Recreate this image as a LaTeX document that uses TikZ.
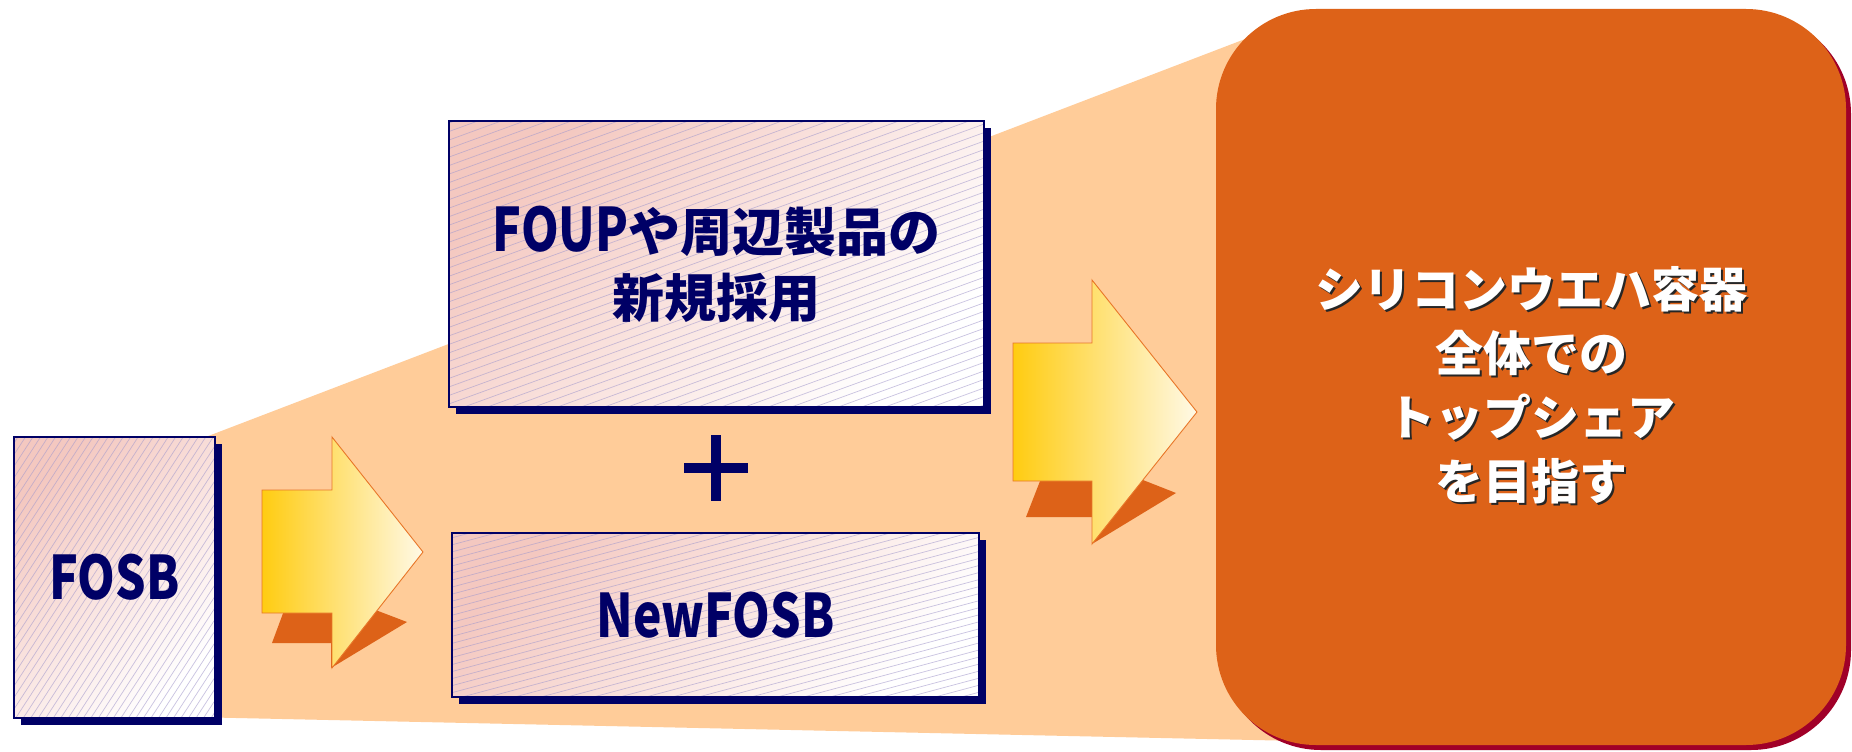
\documentclass[tikz,border=0pt]{standalone}
\usepackage{fontspec}
\usepackage{graphicx}
\usetikzlibrary{shadows,calc}
\newfontfamily\jp{Noto Sans CJK JP}
\definecolor{navy}{RGB}{0,0,102}
\definecolor{peach}{RGB}{255,204,153}
\definecolor{orng}{RGB}{221,98,24}
\definecolor{crimson}{RGB}{160,0,40}
\definecolor{pinkc}{RGB}{244,200,192}
\definecolor{hatchc}{RGB}{165,155,205}
\definecolor{ylw}{RGB}{255,204,17}
\definecolor{cream}{RGB}{255,249,230}
\definecolor{arrline}{RGB}{232,118,40}
\newcommand{\lat}[1]{{\fontsize{60}{66}\selectfont\scalebox{0.8}[1]{#1}}}
\tikzset{
  x=1pt, y=-1pt,
  boxbase/.style={draw=navy, line width=1.3pt, top color=pinkc, bottom color=white, shading angle=45,
    drop shadow={shadow xshift=7pt, shadow yshift=-7pt, fill=navy, opacity=1},
    font=\jp\bfseries\fontsize{52}{66}\selectfont, text=navy, align=center, inner sep=0pt},
  hatch/.style n args={2}{path picture={
    \foreach \k in {-55,...,55}{
      \draw[hatchc, line width=0.7pt, opacity=0.6]
        ($(path picture bounding box.center)+({\k*#2*sin(#1)},{\k*#2*cos(#1)})$)
        ++({-450*cos(#1)},{450*sin(#1)}) -- ++({900*cos(#1)},{-900*sin(#1)});
    }}},
  arrowbody/.style={left color=ylw, right color=cream, draw=arrline, line width=0.9pt},
  arrowshadow/.style={fill=orng},
  goalbox/.style={fill=orng, rounded corners=100pt, minimum width=630pt, minimum height=736pt,
    drop shadow={shadow xshift=5pt, shadow yshift=-5pt, fill=crimson, opacity=1}, inner sep=0pt},
  goaltext/.style={font=\jp\bfseries\fontsize{48}{64}\selectfont, align=center, inner sep=0pt},
  plusbar/.style={navy, line width=10pt}
}
\begin{document}
\begin{tikzpicture}
\useasboundingbox (0,0) rectangle (1852,752);
\fill[white] (0,0) rectangle (1852,752);
\begin{scope}
\clip (0,0) rectangle (1852,752);
% peach funnel
\fill[peach] (190,443) -- (1300,18) -- (1300,741) -- (190,717) -- cycle;
% goal box
\node[goalbox] (goal) at (1531,377) {};
\node[goaltext, text=black!85] (goalshadow) at (1533.5,387.5) {シリコンウエハ容器\\全体での\\トップシェア\\を目指す};
\node[goaltext, text=white] (goaltxt) at (1531,385) {シリコンウエハ容器\\全体での\\トップシェア\\を目指す};
\end{scope}
% boxes
\node[boxbase, minimum width=201pt, minimum height=281pt, hatch={57}{6.3}] (fosb) at (114.5,577.5) {\lat{FOSB}};
\node[boxbase, minimum width=535pt, minimum height=286pt, hatch={20}{8}] (foup) at (716.5,264) {\lat{FOUP}や周辺製品の\\新規採用};
\node[boxbase, minimum width=527pt, minimum height=164pt, hatch={15}{6.8}] (newfosb) at (715.5,615) {\lat{NewFOSB}};
% plus
\coordinate (pc) at (716,468);
\draw[plusbar] ($(pc)+(-32,0)$) -- ($(pc)+(32,0)$);
\draw[plusbar] ($(pc)+(0,-33)$) -- ($(pc)+(0,33)$);
% arrow 1
\fill[arrowshadow] (272,643) -- (285,608) -- (331,593) -- (407,622) -- (331,668) -- (331,643) -- cycle;
\path[arrowbody] (262,490) -- (332,490) -- (332,437) -- (423,552) -- (332,668) -- (332,613) -- (262,613) -- cycle;
% arrow 2
\fill[arrowshadow] (1026,517) -- (1042,476) -- (1092,460) -- (1176,493) -- (1092,544) -- (1092,517) -- cycle;
\path[arrowbody] (1013,343) -- (1092,343) -- (1092,280) -- (1197,412) -- (1092,544) -- (1092,481) -- (1013,481) -- cycle;
\end{tikzpicture}
\end{document}
